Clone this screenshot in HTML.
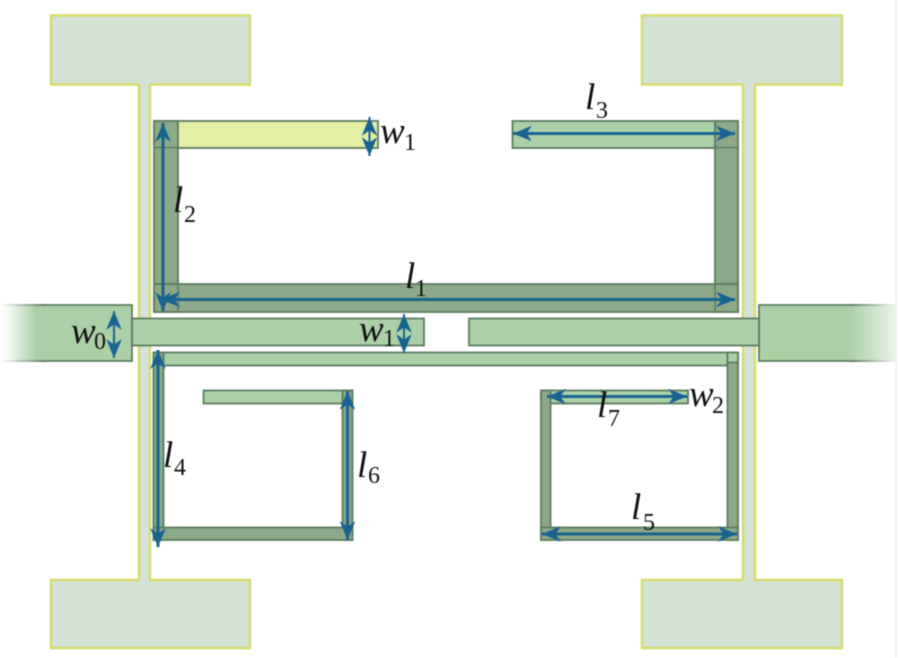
<!DOCTYPE html>
<html><head><meta charset="utf-8"><style>
html,body{margin:0;padding:0;background:#fff;width:899px;height:658px;overflow:hidden}
svg{display:block;filter:blur(0.55px)}
text{font-family:"Liberation Serif",serif;fill:#111}
.v{font-style:italic;font-size:37px}
.s{font-size:24px}
.d{fill:#8ba888;stroke:#5c7c60;stroke-width:1.8}
.a{fill:#abd0a8;stroke:#5c7c60;stroke-width:1.8}
.p{fill:#d5e3d6;stroke:#d5dc6c;stroke-width:2.4}
.ar{stroke:#1a6390;fill:none;stroke-width:3;marker-start:url(#h);marker-end:url(#h)}
</style></head><body>
<svg width="899" height="658" viewBox="0 0 899 658" xmlns="http://www.w3.org/2000/svg">
<defs>
<marker id="h" markerUnits="userSpaceOnUse" markerWidth="20" markerHeight="18" refX="17" refY="8" orient="auto-start-reverse" viewBox="0 0 18 16">
<path d="M17 8 L0 1 L5 8 L0 15 Z" fill="#1a6390"/>
</marker>
<linearGradient id="gl" gradientUnits="userSpaceOnUse" x1="0" x2="45" y1="0" y2="0"><stop offset="0" stop-color="#fff"/><stop offset="0.2" stop-color="#f4f8f3"/><stop offset="0.8" stop-color="#abd0a8"/></linearGradient>
<linearGradient id="gr" gradientUnits="userSpaceOnUse" x1="850" x2="895" y1="0" y2="0"><stop offset="0" stop-color="#abd0a8"/><stop offset="1" stop-color="#eaf3e9"/></linearGradient>
<linearGradient id="sl" gradientUnits="userSpaceOnUse" x1="0" x2="45" y1="0" y2="0"><stop offset="0" stop-color="#fff"/><stop offset="1" stop-color="#5c7c60"/></linearGradient>
<linearGradient id="sr" gradientUnits="userSpaceOnUse" x1="850" x2="895" y1="0" y2="0"><stop offset="0" stop-color="#5c7c60"/><stop offset="1" stop-color="#eef3ee"/></linearGradient>
</defs>
<rect x="895" y="0" width="2" height="658" fill="#f0f0f0"/>
<!-- pads -->
<path class="p" d="M51 15.5H250V84.5H150V580H250V648H51V580H139V84.5H51Z"/>
<path class="p" d="M642 15.5H842V84.5H755V580H842V648H642V580H743V84.5H642Z"/>
<!-- upper ring -->
<rect x="154" y="121" width="224" height="27" fill="#e3efa5" stroke="#5c7c60" stroke-width="1.8"/>
<rect class="a" x="512.5" y="121" width="225" height="27"/>
<rect class="d" x="154" y="121" width="24" height="191"/>
<rect class="d" x="715" y="121" width="23" height="191"/>
<rect class="d" x="154" y="284" width="584" height="28"/>
<path d="M154 147.5H178M154 284H178V312M715 147.5H738M715 284H738M178 284V312M715 284V312" stroke="#5c7c60" stroke-width="1.5" fill="none"/>
<!-- feeds -->
<rect x="0" y="305" width="132" height="56" fill="url(#gl)"/>
<path d="M45 305H132V361H45" fill="none" stroke="#5c7c60" stroke-width="1.8"/>
<rect x="0" y="304" width="45" height="2" fill="url(#sl)"/>
<rect x="0" y="360" width="45" height="2" fill="url(#sl)"/>
<rect x="759" y="305" width="136" height="56" fill="url(#gr)"/>
<path d="M850 305H759V361H850" fill="none" stroke="#5c7c60" stroke-width="1.8"/>
<rect x="850" y="304" width="45" height="2" fill="url(#sr)"/>
<rect x="850" y="360" width="45" height="2" fill="url(#sr)"/>
<rect class="a" x="132" y="318.5" width="292" height="27"/>
<rect class="a" x="469" y="318.5" width="290" height="27"/>
<!-- lower resonators -->
<rect class="a" x="153.500" y="352.500" width="584" height="13"/>
<rect class="a" x="203.500" y="390.500" width="149" height="13"/>
<rect class="a" x="541" y="390.500" width="147" height="13"/>
<rect class="d" x="153.500" y="352.500" width="10" height="187.500"/>
<rect class="d" x="342.500" y="390.500" width="10" height="149.500"/>
<rect class="d" x="153.500" y="527.500" width="199" height="12.500"/>
<rect class="d" x="541" y="390.500" width="9.500" height="149.500"/>
<rect class="d" x="727.500" y="352.500" width="10.500" height="187.500"/>
<rect class="d" x="541" y="527.500" width="197" height="12.500"/>
<rect class="a" x="727.500" y="352.500" width="10.500" height="10"/>
<!-- arrows -->
<path class="ar" d="M163 123V311"/>
<path class="ar" d="M161 299.500H735"/>
<path class="ar" style="stroke-width:2" d="M369.500 117V156"/>
<path class="ar" d="M513 133.500H735"/>
<path class="ar" style="stroke-width:2" d="M114 311V358"/>
<path class="ar" style="stroke-width:2" d="M404 314V353"/>
<path class="ar" d="M158 350V547"/>
<path class="ar" d="M347.500 391V540"/>
<path class="ar" d="M547 396.500H687"/>
<path class="ar" d="M542 534H737"/>
<!-- labels -->
<text class="v" x="380" y="143">w</text><text class="s" x="404" y="150">1</text>
<text class="v" x="173" y="212">l</text><text class="s" x="184" y="222">2</text>
<text class="v" x="405" y="288">l</text><text class="s" x="415" y="296">1</text>
<text class="v" x="585" y="109">l</text><text class="s" x="596" y="118">3</text>
<text class="v" x="71" y="343">w</text><text class="s" x="94" y="349">0</text>
<text class="v" x="359" y="341">w</text><text class="s" x="383" y="346">1</text>
<text class="v" x="163" y="467">l</text><text class="s" x="174" y="475">4</text>
<text class="v" x="357" y="477">l</text><text class="s" x="368" y="483">6</text>
<text class="v" x="597" y="417">l</text><text class="s" x="608" y="426">7</text>
<text class="v" x="689" y="406">w</text><text class="s" x="712" y="413">2</text>
<text class="v" x="631" y="519">l</text><text class="s" x="643" y="530">5</text>
</svg>
</body></html>
